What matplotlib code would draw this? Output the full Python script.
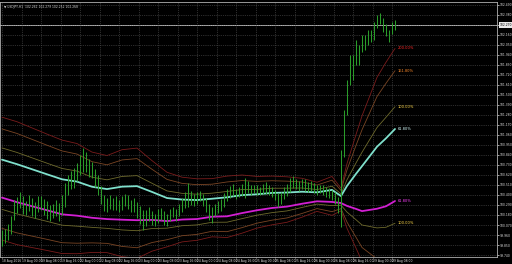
import numpy as np
import matplotlib
matplotlib.use('Agg')
import matplotlib.pyplot as plt

# USDJPY H1 bar highs / lows (one per hour)
highs = [100.02, 100.03, 100.08, 100.17, 100.35, 100.38, 100.43, 100.39, 100.33, 100.40,
         100.37, 100.32, 100.39, 100.39, 100.36, 100.33, 100.29, 100.30, 100.35, 100.31,
         100.40, 100.53, 100.62, 100.66, 100.70, 100.75, 100.84, 100.92, 100.87, 100.80,
         100.76, 100.69, 100.62, 100.50, 100.40, 100.37, 100.40, 100.37, 100.39, 100.35,
         100.39, 100.41, 100.40, 100.35, 100.37, 100.32, 100.28, 100.24, 100.24, 100.27,
         100.22, 100.19, 100.25, 100.26, 100.22, 100.19, 100.25, 100.27, 100.25, 100.30,
         100.37, 100.43, 100.53, 100.44, 100.41, 100.43, 100.44, 100.41, 100.37, 100.30,
         100.27, 100.30, 100.33, 100.36, 100.42, 100.47, 100.50, 100.52, 100.47, 100.49,
         100.52, 100.59, 100.55, 100.51, 100.51, 100.51, 100.49, 100.52, 100.54, 100.51,
         100.49, 100.46, 100.42, 100.43, 100.49, 100.52, 100.59, 100.61, 100.58, 100.55,
         100.58, 100.58, 100.54, 100.55, 100.53, 100.51, 100.51, 100.51, 100.49, 100.48,
         100.46, 100.43, 100.38, 100.90, 101.33, 101.67, 101.94, 101.94, 102.11, 102.05,
         102.16, 102.16, 102.22, 102.22, 102.30, 102.38, 102.40, 102.35, 102.28, 102.22,
         102.30, 102.33]
lows = [99.84, 99.87, 99.91, 99.97, 100.13, 100.20, 100.26, 100.19, 100.18, 100.22,
        100.17, 100.15, 100.21, 100.24, 100.18, 100.14, 100.11, 100.15, 100.17, 100.11,
        100.18, 100.27, 100.40, 100.47, 100.48, 100.55, 100.62, 100.65, 100.65, 100.60,
        100.59, 100.49, 100.40, 100.30, 100.22, 100.21, 100.25, 100.24, 100.24, 100.21,
        100.24, 100.28, 100.25, 100.21, 100.21, 100.15, 100.08, 100.02, 100.06, 100.11,
        100.07, 100.06, 100.09, 100.13, 100.07, 100.06, 100.11, 100.16, 100.11, 100.17,
        100.21, 100.26, 100.27, 100.29, 100.28, 100.30, 100.33, 100.28, 100.21, 100.13,
        100.09, 100.17, 100.20, 100.22, 100.27, 100.33, 100.37, 100.39, 100.36, 100.38,
        100.39, 100.37, 100.42, 100.40, 100.42, 100.40, 100.40, 100.41, 100.41, 100.40,
        100.38, 100.35, 100.27, 100.30, 100.36, 100.39, 100.43, 100.48, 100.47, 100.44,
        100.47, 100.44, 100.43, 100.44, 100.42, 100.40, 100.42, 100.40, 100.38, 100.37,
        100.35, 100.30, 100.20, 100.05, 100.82, 101.28, 101.61, 101.67, 101.83, 101.83,
        101.97, 101.99, 102.05, 102.08, 102.10, 102.24, 102.28, 102.19, 102.15, 102.08,
        102.17, 102.22]

# fibo envelope: moving centre and 100% width, sampled at these bars
knot_bars = [0, 5, 10, 15, 20, 25, 30, 35, 40, 45, 50, 55, 60, 65, 70, 75, 80, 85, 90, 95,
             100, 105, 110, 113, 115, 118, 120, 125, 128, 131]
center = [100.58, 100.53, 100.48, 100.43, 100.38, 100.36, 100.32, 100.30, 100.31, 100.31,
          100.28, 100.24, 100.24, 100.24, 100.26, 100.27, 100.30, 100.32, 100.34, 100.35,
          100.37, 100.38, 100.39, 100.35, 100.39, 100.44, 100.47, 100.59, 100.65, 100.73]
width = [0.338, 0.338, 0.329, 0.320, 0.312, 0.303, 0.276, 0.267, 0.294, 0.303,
         0.249, 0.205, 0.178, 0.169, 0.160, 0.169, 0.160, 0.142, 0.134, 0.125,
         0.107, 0.080, 0.107, 0.062, 0.178, 0.312, 0.400, 0.552, 0.605, 0.641]

levels = [2.0, 1.618, 1.0, 0.618, -0.618, -1.0, -1.618, -2.0]
level_names = ['200.00%', '161.80%', '100.00%', '61.80%', '61.80%', '100.00%', '161.80%', '200.00%']
level_colors = ['#7a1c1c', '#7a4524', '#6e6a2c', '#7fe0cc', '#d21fd2', '#6e6a2c', '#7a4524', '#7a1c1c']
label_colors = ['#ff2a2a', '#ff8a2a', '#ffd84a', '#d8ffff', '#ff40ff', '#ffd84a', '#ff8a2a', '#ff2a2a']
level_widths = [0.6, 0.6, 0.6, 1.3, 1.3, 0.6, 0.6, 0.6]

yticks = [102.49, 102.38, 102.27, 102.16, 102.05, 101.94, 101.83, 101.72, 101.61, 101.50,
          101.39, 101.28, 101.17, 101.06, 100.95, 100.84, 100.73, 100.62, 100.51, 100.40,
          100.29, 100.18, 100.07, 99.96, 99.85, 99.74]
xtick_labels = ['18 Aug 2016', '19 Aug 00:00', '19 Aug 08:00', '19 Aug 16:00', '22 Aug 00:00',
                '22 Aug 08:00', '22 Aug 16:00', '23 Aug 00:00', '23 Aug 08:00', '23 Aug 16:00',
                '24 Aug 00:00', '24 Aug 08:00', '24 Aug 16:00', '25 Aug 00:00', '25 Aug 08:00',
                '25 Aug 16:00', '26 Aug 00:00', '26 Aug 08:00', '26 Aug 16:00', '29 Aug 00:00',
                '29 Aug 08:00']
bid = 102.27
header = '\u25bc USDJPY,H1  102.261 102.279 102.252 102.268'

ymin, ymax = 99.718, 102.523

fig = plt.figure(figsize=(5.12, 2.64), dpi=100, facecolor='black')
ax = fig.add_axes([0, 7 / 264, 497 / 512, 255 / 264], facecolor='black')

bars = np.arange(len(highs))
ax.vlines(bars, lows, highs, color='#2a9c2a', lw=0.75, zorder=3)

kb = np.array(knot_bars)
c = np.array(center)
w = np.array(width)
for lev, name, col, lcol, lw in zip(levels, level_names, level_colors, label_colors, level_widths):
    line = c + lev * w
    ax.plot(kb, line, color=col, lw=lw, zorder=2, solid_capstyle='round')
    if ymin + 0.03 < line[-1] < ymax:
        ax.text(kb[-1] + 0.9, line[-1], name, color=lcol, fontsize=2.6,
                ha='left', va='center', zorder=4)

ax.axhline(bid, color='#b8b8b8', lw=0.7, zorder=1)

ax.set_xlim(-2 / 3, 165)
ax.set_ylim(ymin, ymax)

ax.set_yticks(yticks)
ax.set_yticklabels(['' if abs(v - bid) < 1e-6 else '%.3f' % v for v in yticks])
ax.yaxis.tick_right()
ax.set_xticks(np.arange(len(xtick_labels)) * 6.5)
ax.set_xticklabels(xtick_labels, ha='left')
ax.tick_params(colors='#e0e0e0', labelsize=2.2, width=0.5)
ax.tick_params(axis='y', length=1.5, pad=0.6)
ax.tick_params(axis='x', length=1.0, pad=0.2)

ax.grid(True, color='#5a5a5a', linestyle=':', lw=0.5)
for side in ['left', 'top', 'right', 'bottom']:
    ax.spines[side].set_color('#b0b0b0')
    ax.spines[side].set_linewidth(0.6)

# highlighted bid price on the scale
ax.text(1.006, (bid - ymin) / (ymax - ymin), '%.3f' % bid, transform=ax.transAxes,
        fontsize=2.2, color='black', ha='left', va='center',
        bbox=dict(boxstyle='square,pad=0.2', fc='#e8e8e8', ec='none'))

fig.text(4 / 512, 1 - 7 / 264, header, color='#d0d0d0', fontsize=2.2, ha='left', va='center')

fig.savefig('out.png', dpi=100, facecolor='black')
